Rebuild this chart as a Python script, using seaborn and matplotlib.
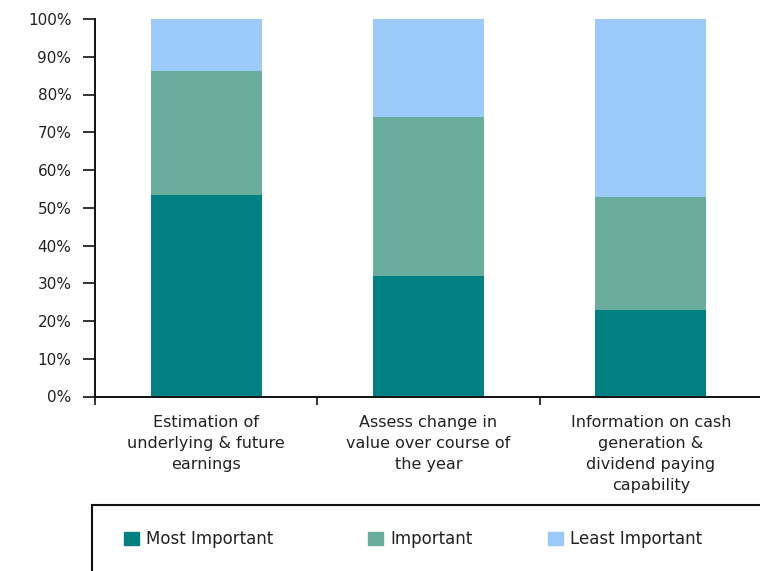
import matplotlib
matplotlib.use("Agg")
import matplotlib.pyplot as plt
import matplotlib.patches as mpatches
import seaborn as sns
import pandas as pd
import numpy as np

categories = ["Estimation of\nunderlying & future\nearnings",
              "Assess change in\nvalue over course of\nthe year",
              "Information on cash\ngeneration &\ndividend paying\ncapability"]
series_names = ["Most Important", "Important", "Least Important"]
most_important = [53.4, 31.8, 22.8]
important = [32.9, 42.2, 30.0]
least_important = [13.7, 26.0, 47.2]
colors = ["#008080", "#69AE9C", "#9DCBF9"]
ytick_labels = [f"{v}%" for v in range(0, 101, 10)]

sns.set_style("white")
plt.rcParams['font.family'] = ['DejaVu Sans']

df = pd.DataFrame({"category": categories,
                   "Most Important": most_important,
                   "Important": important,
                   "Least Important": least_important})
df["c1"] = df["Most Important"]
df["c2"] = df["c1"] + df["Important"]
df["c3"] = df["c2"] + df["Least Important"]

fig = plt.figure(figsize=(7.6, 5.71), dpi=100)
ax = fig.add_axes([95/760, 1-396.5/571, 667/760, (396.5-19)/571])

for col, color in zip(["c3", "c2", "c1"], colors[::-1]):
    sns.barplot(data=df, x="category", y=col, color=color, width=0.5,
                ax=ax, saturation=1, edgecolor="none")

ax.set_xlim(-0.5, 2.5)
ax.set_ylim(0, 100)
ax.set_yticks(range(0, 101, 10))
ax.set_yticklabels(ytick_labels)
ax.set_xlabel("")
ax.set_ylabel("")
ax.set_xticks([0, 1, 2])
ax.set_xticklabels(categories, linespacing=1.5)
ax.set_xticks([-0.5, 0.5, 1.5, 2.5], minor=True)
ax.tick_params(axis="x", which="major", length=0, pad=13, labelsize=11.5, colors="#222222")
ax.tick_params(axis="x", which="minor", length=6, width=1.2, direction="out", color="#111111", bottom=True)
ax.tick_params(axis="y", length=9, width=1.2, direction="out", left=True, pad=8, labelsize=11, colors="#111111", labelcolor="#222222")
for s in ["top", "right"]:
    ax.spines[s].set_visible(False)
for s in ["left", "bottom"]:
    ax.spines[s].set_color("#111111")
    ax.spines[s].set_linewidth(1.4)

# legend box
box = mpatches.Rectangle((92/760, -0.05), 0.95, (571-505)/571 + 0.05,
                         transform=fig.transFigure, fill=False,
                         edgecolor="#111111", linewidth=1.5)
fig.add_artist(box)
marker_left = [124, 368, 548]
for c, n, xl in zip(colors, series_names, marker_left):
    fig.legend(handles=[mpatches.Patch(color=c, label=n)], loc="center left",
               bbox_to_anchor=(xl/760, 1-539/571), frameon=False, borderpad=0,
               borderaxespad=0, handlelength=0.9, handleheight=0.8,
               handletextpad=0.45, fontsize=12, labelcolor="#222222")

fig.savefig("out.png", dpi=100)
